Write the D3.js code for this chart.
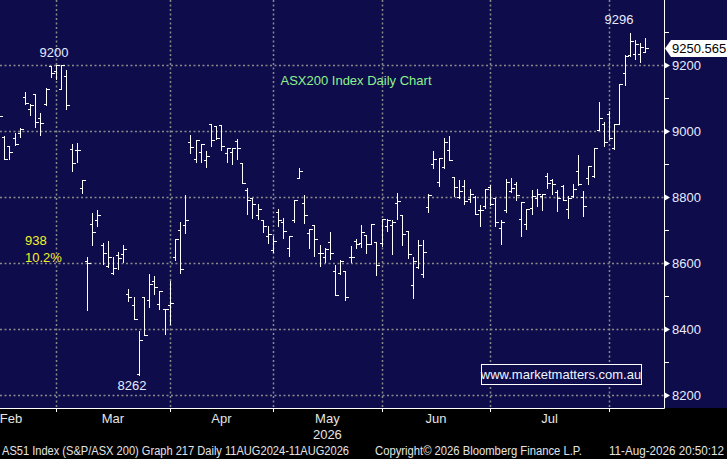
<!DOCTYPE html>
<html>
<head>
<meta charset="utf-8">
<script src="https://cdn.jsdelivr.net/npm/d3@7"></script>
<style>
  html, body { margin: 0; padding: 0; background: #000; overflow: hidden; }
  svg { display: block; }
  text { font-family: "Liberation Sans", Arial, sans-serif; }
</style>
</head>
<body>
<div id="chart"></div>
<script>
const navy = '#0e0c4a'
const grid = '#8a8a8a'
const ink = '#e6ebff'

// daily OHLC, one entry per trading day (13 Feb .. 11 Aug 2026)
const open = [9033, 8982, 8955, 8979, 8994, 9103, 9067, 9112, 9039, 9082,
  9197, 9182, 9127, 9167, 8945, 8942, 8827, 8606, 8718, 8730,
  8655, 8591, 8570, 8624, 8627, 8506, 8473, 8265, 8497, 8488,
  8545, 8476, 8461, 8473, 8618, 8700, 8715, 8967, 8915, 8936,
  8912, 9021, 9015, 9018, 8933, 8936, 8970, 8903, 8821, 8797,
  8745, 8730, 8682, 8639, 8755, 8724, 8645, 8730, 8858, 8782,
  8691, 8715, 8630, 8618, 8664, 8576, 8570, 8576, 8618, 8667,
  8661, 8685, 8658, 8664, 8661, 8712, 8715, 8782, 8745, 8697,
  8533, 8588, 8567, 8770, 8900, 8845, 8891, 8942, 8861, 8800,
  8833, 8794, 8800, 8761, 8773, 8830, 8797, 8706, 8761, 8818,
  8839, 8733, 8718, 8767, 8797, 8803, 8864, 8852, 8815, 8833,
  8764, 8803, 8879, 8800, 8858, 8864, 9003, 9021, 9052, 8948,
  9021, 9176, 9230, 9233, 9233, 9239]
const high = [9058, 8985, 8955, 8994, 9009, 9118, 9082, 9112, 9055, 9130,
  9197, 9200, 9200, 9185, 8961, 8964, 8852, 8618, 8752, 8761,
  8661, 8667, 8618, 8633, 8655, 8521, 8497, 8394, 8497, 8567,
  8561, 8515, 8461, 8545, 8673, 8724, 8806, 8988, 8973, 8961,
  8939, 9021, 9015, 9018, 8948, 8948, 8976, 8903, 8827, 8797,
  8779, 8730, 8712, 8682, 8764, 8736, 8682, 8791, 8888, 8806,
  8703, 8715, 8655, 8645, 8694, 8594, 8609, 8576, 8652, 8673,
  8715, 8685, 8718, 8664, 8733, 8733, 8730, 8812, 8745, 8697,
  8618, 8670, 8670, 8809, 8939, 8918, 8979, 8985, 8861, 8852,
  8852, 8824, 8803, 8776, 8824, 8836, 8797, 8730, 8855, 8858,
  8845, 8785, 8764, 8821, 8824, 8809, 8873, 8855, 8821, 8836,
  8803, 8839, 8927, 8818, 8894, 8948, 9088, 9027, 9061, 9021,
  9142, 9230, 9296, 9276, 9267, 9282]
const low = [9018, 8915, 8915, 8958, 8982, 9082, 9048, 9012, 8988, 9079,
  9164, 9158, 9127, 9067, 8879, 8906, 8812, 8458, 8655, 8712,
  8597, 8588, 8567, 8582, 8603, 8485, 8430, 8262, 8382, 8467,
  8506, 8461, 8385, 8415, 8609, 8570, 8691, 8933, 8906, 8906,
  8891, 8955, 8976, 8942, 8906, 8900, 8915, 8842, 8748, 8736,
  8733, 8694, 8661, 8633, 8712, 8676, 8621, 8724, 8858, 8721,
  8645, 8621, 8591, 8603, 8612, 8503, 8567, 8488, 8603, 8645,
  8648, 8630, 8658, 8564, 8652, 8697, 8627, 8733, 8655, 8615,
  8494, 8585, 8558, 8755, 8888, 8833, 8888, 8912, 8803, 8797,
  8779, 8785, 8748, 8712, 8767, 8776, 8712, 8658, 8755, 8815,
  8791, 8682, 8703, 8748, 8773, 8761, 8827, 8809, 8758, 8791,
  8736, 8800, 8836, 8742, 8839, 8861, 9003, 8955, 8976, 8945,
  9021, 9139, 9227, 9218, 9209, 9239]
const close = [9045, 8915, 8936, 8961, 9006, 9085, 9079, 9027, 9024, 9127,
  9176, 9200, 9200, 9079, 8903, 8942, 8852, 8600, 8694, 8745,
  8630, 8618, 8585, 8615, 8642, 8497, 8430, 8367, 8382, 8536,
  8527, 8515, 8461, 8479, 8673, 8582, 8730, 8952, 8973, 8961,
  8924, 8973, 8979, 8955, 8948, 8948, 8948, 8842, 8791, 8779,
  8764, 8712, 8688, 8667, 8730, 8697, 8682, 8791, 8879, 8745,
  8703, 8673, 8630, 8642, 8630, 8503, 8606, 8497, 8618, 8658,
  8694, 8658, 8718, 8594, 8733, 8730, 8724, 8788, 8688, 8627,
  8606, 8655, 8633, 8806, 8915, 8918, 8967, 8912, 8830, 8818,
  8788, 8809, 8748, 8761, 8824, 8779, 8724, 8724, 8845, 8827,
  8806, 8785, 8764, 8803, 8809, 8809, 8842, 8839, 8797, 8791,
  8797, 8824, 8839, 8773, 8894, 8948, 9039, 8967, 8979, 9021,
  9142, 9227, 9273, 9264, 9255, 9250.565]

// month labels and the bar index of each month's first trading day
const months = ['Feb', 'Mar', 'Apr', 'May', 'Jun', 'Jul']
const monthStart = [-9, 11, 33, 53, 74, 95, 118]
const year = '2026'

const yLabels = [8200, 8400, 8600, 8800, 9000, 9200]
const yMinor = [8300, 8500, 8700, 8900, 9100, 9300, 9400]

// price labels placed at [bar index, price]
const notes = [
  { text: '9200', at: [10.6, 9239] },
  { text: '8262', at: [25.7, 8230] },
  { text: '9296', at: [119.9, 9339] }
]
const range = ['938', '10.2%']
const lastPrice = '9250.565'
const title = 'ASX200 Index Daily Chart'
const footer = [
  'AS51 Index (S&P/ASX 200) Graph 217 Daily 11AUG2024-11AUG2026',
  'Copyright\u00a9 2026 Bloomberg Finance L.P.',
  '11-Aug-2026 20:50:12'
]

const W = 727
const H = 459
const plotR = 664
const plotB = 408

const svg = d3.select('#chart').append('svg')
  .attr('width', W)
  .attr('height', H)

svg.append('rect').attr('width', W).attr('height', H).attr('fill', '#000')
svg.append('rect').attr('width', W).attr('height', plotB).attr('fill', navy)

const x = d3.scaleLinear().domain([0, close.length - 1]).range([-0.87, 645.3])
const y = d3.scaleLinear().domain([8200, 9200]).range([395, 65])
const px = i => Math.round(x(i)) + 0.5
const py = v => Math.round(y(v)) + 0.5

svg.append('clipPath').attr('id', 'plot')
  .append('rect').attr('width', plotR).attr('height', plotB)

// grid
const g = svg.append('g')
  .attr('stroke', grid)
  .attr('stroke-width', 1.5)
  .attr('stroke-dasharray', '2,2.5')

g.selectAll('.h').data(yLabels).join('line')
  .attr('x1', 0).attr('x2', plotR)
  .attr('y1', d => py(d)).attr('y2', d => py(d))

g.selectAll('.v').data(monthStart.slice(1)).join('line')
  .attr('x1', d => px(d)).attr('x2', d => px(d))
  .attr('y1', 0).attr('y2', plotB)

// bars
const bars = svg.append('g')
  .attr('clip-path', 'url(#plot)')
  .attr('stroke', '#fff')
  .attr('stroke-width', 1)
  .attr('shape-rendering', 'crispEdges')

bars.selectAll('path').data(close).join('path')
  .attr('fill', 'none')
  .attr('d', (c, i) => {
    const cx = px(i)
    return `M${cx},${py(high[i]) - 0.5}V${py(low[i]) + 0.5}` +
      `M${cx - 3},${py(open[i])}H${cx}` +
      `M${cx},${py(c)}H${cx + 3}`
  })

// axes lines
svg.append('path')
  .attr('d', `M${plotR + 0.5},0V${plotB + 0.5}H0`)
  .attr('fill', 'none')
  .attr('stroke', '#fff')
  .attr('stroke-width', 1)

// right axis
svg.append('g').selectAll('line').data(yMinor).join('line')
  .attr('x1', plotR).attr('x2', plotR + 5)
  .attr('y1', d => py(d)).attr('y2', d => py(d))
  .attr('stroke', '#fff')

const yl = svg.append('g').selectAll('g').data(yLabels).join('g')
  .attr('transform', d => `translate(${plotR},${py(d)})`)
yl.append('path').attr('d', 'M0,-3.5L6,0L0,3.5Z').attr('fill', '#fff')
yl.append('text')
  .attr('x', 8).attr('dy', '0.36em')
  .attr('fill', ink).attr('font-size', 13)
  .text(d => d)

// last price flag
const lp = svg.append('g').attr('transform', `translate(${plotR + 1},${py(9250.565)})`)
lp.append('path')
  .attr('d', 'M0,0L6,-8.5H62V8.5H6Z')
  .attr('fill', '#fff')
lp.append('text')
  .attr('x', 7).attr('dy', '0.36em')
  .attr('fill', '#000').attr('font-size', 13)
  .text(lastPrice)

// x axis
svg.append('g').selectAll('line').data(monthStart.slice(1)).join('line')
  .attr('x1', d => px(d)).attr('x2', d => px(d))
  .attr('y1', plotB).attr('y2', plotB + 4)
  .attr('stroke', '#fff')

svg.append('g').selectAll('text').data(months).join('text')
  .attr('x', (d, i) => Math.max(11, (x(monthStart[i]) + x(monthStart[i + 1])) / 2))
  .attr('y', 423)
  .attr('text-anchor', 'middle')
  .attr('fill', '#e4e4e4')
  .attr('font-size', 13)
  .text(d => d)

svg.append('text')
  .attr('x', (x(monthStart[3]) + x(monthStart[4])) / 2)
  .attr('y', 439)
  .attr('text-anchor', 'middle')
  .attr('fill', '#e4e4e4')
  .attr('font-size', 13)
  .text(year)

// footer
const fx = [[2, 347], [375, 207], [609, 115]]
svg.append('g').selectAll('text').data(footer).join('text')
  .attr('x', (d, i) => fx[i][0])
  .attr('y', 455)
  .attr('textLength', (d, i) => fx[i][1])
  .attr('lengthAdjust', 'spacingAndGlyphs')
  .attr('fill', '#e4e4e4')
  .attr('font-size', 12)
  .text(d => d)

// annotations
svg.append('text')
  .attr('x', 356).attr('y', 85)
  .attr('text-anchor', 'middle')
  .attr('fill', '#8ef08e')
  .attr('font-size', 13)
  .text(title)

svg.append('g').selectAll('text').data(notes).join('text')
  .attr('x', d => x(d.at[0]))
  .attr('y', d => y(d.at[1]))
  .attr('dy', '0.36em')
  .attr('text-anchor', 'middle')
  .attr('fill', ink)
  .attr('font-size', 13)
  .text(d => d.text)

svg.append('g').selectAll('text').data(range).join('text')
  .attr('x', 25)
  .attr('y', (d, i) => 245 + i * 17)
  .attr('fill', '#f2f22a')
  .attr('font-size', 13)
  .text(d => d)

// watermark
svg.append('rect')
  .attr('x', 481.5).attr('y', 364.5)
  .attr('width', 160).attr('height', 20)
  .attr('fill', navy)
  .attr('stroke', '#fff')
svg.append('text')
  .attr('x', 561).attr('y', 379)
  .attr('text-anchor', 'middle')
  .attr('fill', '#f0f6ff')
  .attr('font-size', 13)
  .text('www.marketmatters.com.au')
</script>
</body>
</html>
